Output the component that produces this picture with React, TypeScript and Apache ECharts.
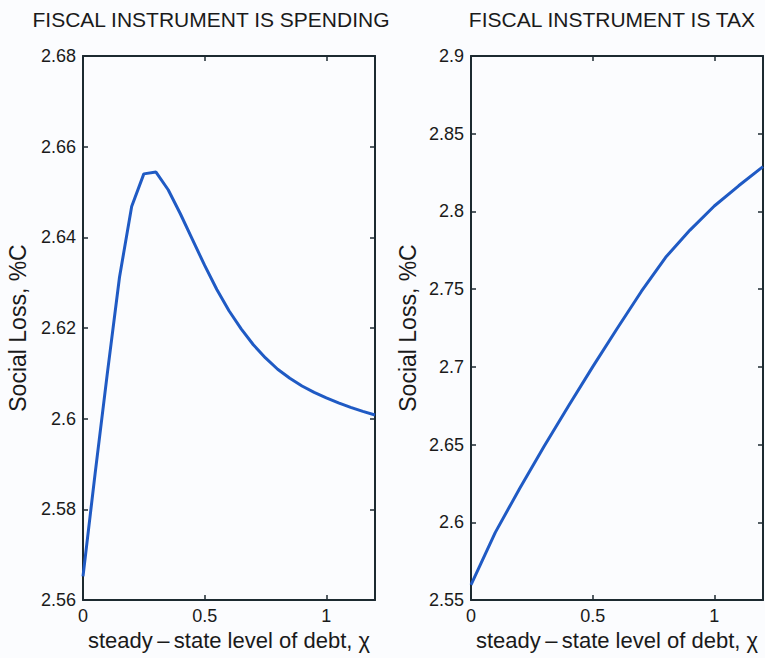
import React, { useEffect, useRef } from "react";
import * as echarts from "echarts";

// steady-state level of debt (chi) sample points
const debtSpending = [0, 0.05, 0.1, 0.15, 0.2, 0.25, 0.3, 0.35, 0.4, 0.45, 0.5, 0.55, 0.6, 0.65, 0.7, 0.75, 0.8, 0.85, 0.9, 0.95, 1.0, 1.05, 1.1, 1.15, 1.2];
const lossSpending = [2.5652, 2.588, 2.61, 2.6312, 2.6468, 2.654, 2.6544, 2.6505, 2.6452, 2.6395, 2.6338, 2.6285, 2.6238, 2.6198, 2.6163, 2.6134, 2.6109, 2.6089, 2.6072, 2.6058, 2.6046, 2.6035, 2.6025, 2.6016, 2.6008];

const debtTax = [0, 0.1, 0.2, 0.3, 0.4, 0.5, 0.6, 0.7, 0.8, 0.9, 1.0, 1.1, 1.2];
const lossTax = [2.5597, 2.5935, 2.6218, 2.6487, 2.6747, 2.7, 2.7245, 2.7485, 2.7705, 2.788, 2.8035, 2.8165, 2.8288];

const titles = ["FISCAL INSTRUMENT IS SPENDING", "FISCAL INSTRUMENT IS TAX"];
const yName = "Social Loss, %C";
const xName = "steady\u2009\u2013\u2009state level of debt, \u03c7";

const FONT = "'Liberation Sans', Arial, Helvetica, sans-serif";
const AXIS = "#1c2a30";
const TEXT = "#1a1a1a";
const BLUE = "#1f5ac4";

export default function App() {
  const ref = useRef<HTMLDivElement>(null);
  useEffect(() => {
    if (!ref.current) return;
    const chart = echarts.init(ref.current, undefined, { renderer: "svg" });
    const fmtY = (v: number) => String(Number(v.toFixed(2)));
    const fmtX = (v: number) => String(Number(v.toFixed(1)));

    const xBase = (gridIndex: number, position: "bottom" | "top", show: boolean) => ({
      type: "value",
      gridIndex,
      position,
      min: 0,
      max: 1.2,
      interval: 0.5,
      name: show ? xName : "",
      nameLocation: "middle",
      nameGap: 27,
      nameTextStyle: { fontFamily: FONT, fontSize: 22, color: TEXT },
      axisLine: { show: true, onZero: false, lineStyle: { color: AXIS, width: 2 } },
      axisTick: { show: true, inside: true, length: 5, lineStyle: { color: AXIS, width: 1.5 } },
      axisLabel: {
        show,
        showMaxLabel: false,
        margin: 7,
        formatter: fmtX,
        fontFamily: FONT,
        fontSize: 18,
        color: TEXT,
      },
      splitLine: { show: false },
    });

    const yBase = (gridIndex: number, position: "left" | "right", show: boolean, min: number, max: number, interval: number, gap: number) => ({
      type: "value",
      gridIndex,
      position,
      min,
      max,
      interval,
      name: show ? yName : "",
      nameLocation: "middle",
      nameGap: gap,
      nameTextStyle: { fontFamily: FONT, fontSize: 23, color: TEXT },
      axisLine: { show: true, onZero: false, lineStyle: { color: AXIS, width: 2 } },
      axisTick: { show: true, inside: true, length: 5, lineStyle: { color: AXIS, width: 1.5 } },
      axisLabel: {
        show,
        margin: 7,
        formatter: fmtY,
        fontFamily: FONT,
        fontSize: 18,
        color: TEXT,
      },
      splitLine: { show: false },
    });

    chart.setOption({
      animation: false,
      backgroundColor: "#fbfcfe",
      grid: [
        { left: 83, top: 56, width: 292, height: 544 },
        { left: 471, top: 56, width: 292, height: 544 },
      ],
      graphic: [
        {
          type: "text",
          x: 211,
          y: 19,
          style: { text: titles[0], fill: TEXT, font: `21px ${FONT}`, textAlign: "center", textVerticalAlign: "middle" },
        },
        {
          type: "text",
          x: 612,
          y: 19,
          style: { text: titles[1], fill: TEXT, font: `21px ${FONT}`, textAlign: "center", textVerticalAlign: "middle" },
        },
      ],
      xAxis: [xBase(0, "bottom", true), xBase(0, "top", false), xBase(1, "bottom", true), xBase(1, "top", false)],
      yAxis: [
        yBase(0, "left", true, 2.56, 2.68, 0.02, 54),
        yBase(0, "right", false, 2.56, 2.68, 0.02, 0),
        yBase(1, "left", true, 2.55, 2.9, 0.05, 52),
        yBase(1, "right", false, 2.55, 2.9, 0.05, 0),
      ],
      series: [
        {
          type: "line",
          xAxisIndex: 0,
          yAxisIndex: 0,
          data: debtSpending.map((x, i) => [x, lossSpending[i]]),
          showSymbol: false,
          lineStyle: { color: BLUE, width: 3 },
          itemStyle: { color: BLUE },
        },
        {
          type: "line",
          xAxisIndex: 2,
          yAxisIndex: 2,
          data: debtTax.map((x, i) => [x, lossTax[i]]),
          showSymbol: false,
          lineStyle: { color: BLUE, width: 3 },
          itemStyle: { color: BLUE },
        },
      ],
    });
    return () => chart.dispose();
  }, []);
  return (
    <div
      ref={ref}
      style={{ position: "fixed", left: 0, top: 0, width: 765, height: 658 }}
    />
  );
}
